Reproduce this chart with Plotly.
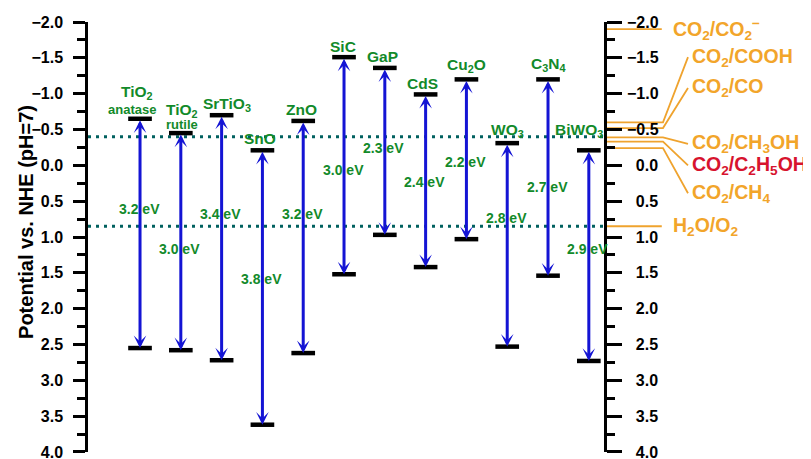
import plotly.graph_objects as go

# ---------------- data ----------------
materials = ["TiO<sub>2</sub>", "TiO<sub>2</sub>", "SrTiO<sub>3</sub>", "SnO", "ZnO", "SiC",
             "GaP", "CdS", "Cu<sub>2</sub>O", "WO<sub>3</sub>", "C<sub>3</sub>N<sub>4</sub>",
             "BiWO<sub>3</sub>"]
phases = ["anatase", "rutile", "", "", "", "", "", "", "", "", "", ""]
cb = [-0.65, -0.45, -0.70, -0.21, -0.62, -1.51, -1.36, -0.99, -1.20, -0.31, -1.20, -0.21]
vb = [2.55, 2.58, 2.72, 3.62, 2.62, 1.52, 0.97, 1.42, 1.03, 2.53, 1.54, 2.73]
gaps = ["3.2", "3.0", "3.4", "3.8", "3.2", "3.0", "2.3", "2.4", "2.2", "2.8", "2.7", "2.9"]
gap_label_pos = [0.61, 1.17, 0.68, 1.58, 0.68, 0.07, -0.24, 0.23, -0.05, 0.74, 0.30, 1.17]

couples = ["CO<sub>2</sub>/CO<sub>2</sub><sup>−</sup>", "CO<sub>2</sub>/COOH", "CO<sub>2</sub>/CO",
           "CO<sub>2</sub>/CH<sub>3</sub>OH", "CO<sub>2</sub>/C<sub>2</sub>H<sub>5</sub>OH",
           "CO<sub>2</sub>/CH<sub>4</sub>", "H<sub>2</sub>O/O<sub>2</sub>"]
couple_pot = [-1.90, -0.60, -0.52, -0.39, -0.33, -0.24, 0.85]
couple_label_pos = [-1.90, -1.51, -1.08, -0.30, 0.00, 0.39, 0.85]
couple_colors = ["#F2A52A", "#F2A52A", "#F2A52A", "#F2A52A", "#D7132E", "#F2A52A", "#F2A52A"]

water_levels = [-0.40, 0.85]   # H+/H2 and O2/H2O at pH 7

yticks = [-2.0, -1.5, -1.0, -0.5, 0.0, 0.5, 1.0, 1.5, 2.0, 2.5, 3.0, 3.5, 4.0]

# ---------------- style / layout ----------------
FONT = "Arial, 'Liberation Sans', sans-serif"
GREEN = "#128A2A"
BLUE = "#1414D4"
TEAL = "#00605F"
ORANGE = "#EFA32E"

PX_PER_UNIT = 40.8
PLOT_W = 731
X_RANGE = [-0.275, -0.275 + PLOT_W / PX_PER_UNIT]
X_RAXIS = -0.275 + 517 / PX_PER_UNIT
X_HEND = X_RAXIS + 58 / PX_PER_UNIT
X_DEND = X_RAXIS + 83 / PX_PER_UNIT
X_LBL_DIAG = X_RAXIS + 85 / PX_PER_UNIT
X_LBL_STRAIGHT = X_RAXIS + 66 / PX_PER_UNIT
HALF_BAR = 0.29

name_dx = [-3, 1, 5, -2, -2, -1, -2, -3, 0, 0, 0, -10]
name_dy = [26, 23, 11, 12, 11, 11, 11, 11, 14, 13, 15, 20]
phase_dy = [9, 9]
phase_dx = [-8, 1]

xs = [i + 1 for i in range(len(materials))]

fig = go.Figure()

# water redox dotted lines
for lv in water_levels:
    fig.add_trace(go.Scatter(x=[X_RANGE[0], X_RAXIS], y=[lv, lv], mode="lines",
                             line=dict(color=TEAL, width=3, dash="3px,5px"),
                             hoverinfo="skip", showlegend=False))

# band edges
bx, by = [], []
for x, c, v in zip(xs, cb, vb):
    bx += [x - HALF_BAR, x + HALF_BAR, None, x - HALF_BAR, x + HALF_BAR, None]
    by += [c, c, None, v, v, None]
fig.add_trace(go.Scatter(x=bx, y=by, mode="lines", line=dict(color="black", width=4.5),
                         hoverinfo="skip", showlegend=False))

# redox couple lines on the right
for name, pot, lp, col in zip(couples, couple_pot, couple_label_pos, couple_colors):
    if lp == pot:
        lx, ly = [X_RAXIS, X_HEND - 0.03], [pot, pot]
        tx = X_LBL_STRAIGHT
    else:
        lx, ly = [X_RAXIS, X_HEND, X_DEND], [pot, pot, lp]
        tx = X_LBL_DIAG
    fig.add_trace(go.Scatter(x=lx, y=ly, mode="lines", line=dict(color=ORANGE, width=1.8),
                             hoverinfo="skip", showlegend=False, yaxis="y"))
    fig.add_annotation(x=tx, y=lp, text=name, showarrow=False, xanchor="left",
                       yanchor="middle", font=dict(family=FONT, size=19.5, color=col,
                                                   weight="bold"))

# band gap arrows
for x, c, v in zip(xs, cb, vb):
    fig.add_annotation(x=x, y=v, ax=x, ay=c, xref="x", yref="y", axref="x", ayref="y",
                       text="", showarrow=True, arrowside="end+start", arrowhead=3,
                       startarrowhead=3, arrowsize=0.7, startarrowsize=0.7,
                       arrowwidth=3, arrowcolor=BLUE, standoff=0, startstandoff=0)

# band gap labels
for x, g, gp in zip(xs, gaps, gap_label_pos):
    fig.add_annotation(x=x, y=gp, text=g + " eV", showarrow=False, xshift=-1,
                       font=dict(family=FONT, size=14, color=GREEN, weight="bold"))

# material names
for i, (x, c, nm) in enumerate(zip(xs, cb, materials)):
    fig.add_annotation(x=x, y=c, text=nm, showarrow=False, xshift=name_dx[i],
                       yshift=name_dy[i], yanchor="middle",
                       font=dict(family=FONT, size=15.5, color=GREEN, weight="bold"))
for i, (x, c, ph) in enumerate(zip(xs, cb, phases)):
    if ph:
        fig.add_annotation(x=x, y=c, text=ph, showarrow=False, xshift=phase_dx[i],
                           yshift=phase_dy[i], yanchor="middle",
                           font=dict(family=FONT, size=13, color=GREEN, weight="bold"))

# axis title
fig.add_annotation(xref="paper", yref="paper", x=-62 / PLOT_W, y=0.535,
                   text="Potential vs. NHE (pH=7)",
                   textangle=-90, showarrow=False, xanchor="center", yanchor="middle",
                   font=dict(family=FONT, size=20, color="black", weight="bold"))

# dummy trace for right axis
fig.add_trace(go.Scatter(x=[None], y=[None], yaxis="y2", showlegend=False, hoverinfo="skip"))

ytext_right = [("−" if t < 0 else "\u2007") + f"{abs(t):.1f}" for t in yticks]

axis_common = dict(range=[4.0008, -2.0008], showgrid=False, zeroline=False, showline=True,
                   linecolor="black", linewidth=2.5, ticks="outside", tickwidth=2.5,
                   tickcolor="black", tickvals=yticks,
                   tickfont=dict(family=FONT, size=16, color="black", weight="bold"),
                   minor=dict(ticks="outside", dtick=0.25, ticklen=8, tickwidth=2.5,
                              tickcolor="black"))

fig.update_layout(
    width=811, height=459,
    margin=dict(l=80, r=0, t=14, b=15, pad=0),
    paper_bgcolor="white", plot_bgcolor="white",
    showlegend=False,
    xaxis=dict(range=X_RANGE, visible=False, domain=[0, 1]),
    yaxis=dict(**axis_common, ticklen=12, ticktext=[f"{t:.1f}".replace("-", "−") for t in yticks],
               ticklabelstandoff=7),
    yaxis2=dict(**axis_common, overlaying="y", side="right", anchor="free",
                position=517 / PLOT_W,
                ticklen=15, ticktext=ytext_right, ticklabelstandoff=2),
)

fig.write_html("out.html")
